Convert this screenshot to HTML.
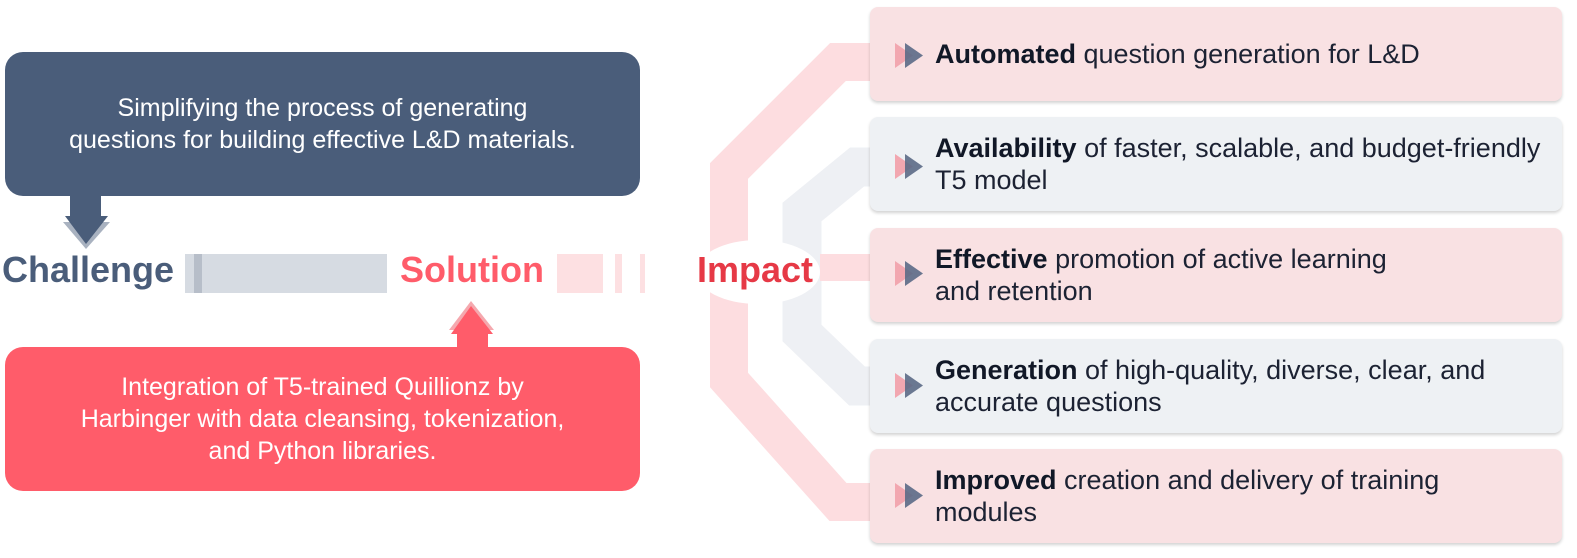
<!DOCTYPE html>
<html><head><style>
body{margin:0;width:1577px;height:558px;background:#fff;position:relative;overflow:hidden;font-family:"Liberation Sans",sans-serif}
.abs{position:absolute}
.box{position:absolute;left:5px;width:635px;height:144px;border-radius:18px;color:#fff;font-size:25px;line-height:32px;text-align:center;display:flex;align-items:center;justify-content:center}
.card{position:absolute;left:870px;width:692px;height:94px;border-radius:8px;box-shadow:0 2px 3px rgba(0,0,0,0.18);display:flex;align-items:center;font-size:27px;line-height:32px;color:#1c2233}
.card .t{margin-left:65px;white-space:nowrap}
.card b{color:#111827}
.pk{background:#f9e1e3}.gy{background:#eef1f4}
.lbl{position:absolute;font-weight:bold;font-size:36px;top:249px}
</style></head><body>
<svg class="abs" style="left:0;top:0" width="1577" height="558">
<polyline points="872,62 838,62 729,171 729,380 838,502 872,502" fill="none" stroke="#fddde0" stroke-width="38" stroke-linejoin="miter"/>
<polyline points="872,167 857,167 802,212 802,333 857,386 872,386" fill="none" stroke="#eef0f4" stroke-width="39"/>
<rect x="820" y="254" width="52" height="27" fill="#fddde0"/>
<ellipse cx="758" cy="272" rx="62" ry="32" fill="#fff"/>
<rect x="185" y="254" width="202" height="39" fill="#d6dbe2"/>
<rect x="194" y="254" width="8" height="39" fill="#b7bec9"/>
<rect x="557" y="254" width="46" height="39" fill="#fde0e2"/>
<rect x="615" y="254" width="7" height="39" fill="#fde0e2"/>
<rect x="640" y="254" width="5" height="39" fill="#fde0e2"/>
<rect x="70" y="190" width="31" height="28" fill="#4a5d7a"/>
<polygon points="63,222 110,222 86,249" fill="#a9b2c0"/>
<polygon points="65,216 108,216 86,244" fill="#4a5d7a"/>
<polygon points="449,330 494,330 471,301" fill="#f5a8ae"/>
<polygon points="451,334 493,334 471,306" fill="#ff5c6a"/>
<rect x="457" y="332" width="31" height="20" fill="#ff5c6a"/>
</svg>
<div class="box" style="top:52px;background:#4a5d7a">Simplifying the process of generating<br>questions for building effective L&amp;D materials.</div>
<div class="box" style="top:347px;background:#ff5c6a">Integration of T5-trained Quillionz by<br>Harbinger with data cleansing, tokenization,<br>and Python libraries.</div>
<div class="lbl" style="left:2px;color:#4a5d7a">Challenge</div>
<div class="lbl" style="left:400px;color:#ff5c6a">Solution</div>
<div class="lbl" style="left:697px;color:#e63946">Impact</div>

<div class="card pk" style="top:7px"><div class="t"><b>Automated</b> question generation for L&amp;D</div></div>
<div class="card gy" style="top:117px"><div class="t"><b>Availability</b> of faster, scalable, and budget-friendly<br>T5 model</div></div>
<div class="card pk" style="top:228px"><div class="t"><b>Effective</b> promotion of active learning<br>and retention</div></div>
<div class="card gy" style="top:339px"><div class="t"><b>Generation</b> of high-quality, diverse, clear, and<br>accurate questions</div></div>
<div class="card pk" style="top:449px"><div class="t"><b>Improved</b> creation and delivery of training<br>modules</div></div>
<svg class="abs" style="left:0;top:0" width="1577" height="558">
<g id="ic"><polygon points="895,43 895,68 913,55.5" fill="#f2a7b0"/><polygon points="905,43 905,68 923,55.5" fill="#5b6a86" opacity="0.9"/></g>
<use href="#ic" y="111"/><use href="#ic" y="218"/><use href="#ic" y="330"/><use href="#ic" y="440"/>
</svg>
</body></html>
